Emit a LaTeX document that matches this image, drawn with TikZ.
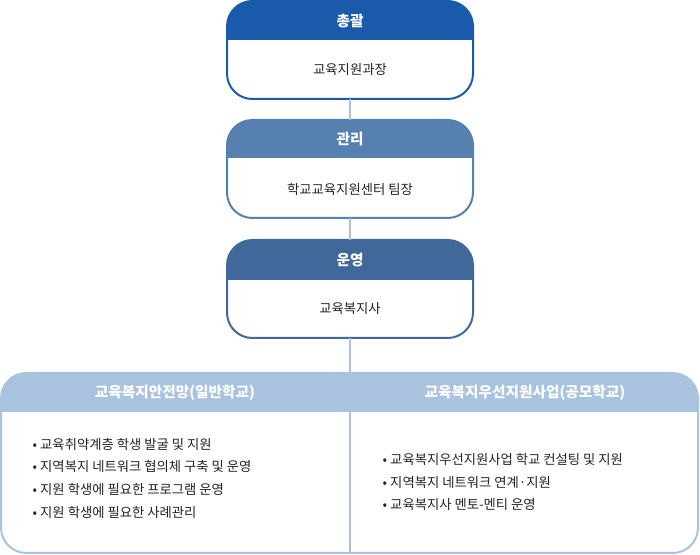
\documentclass[tikz,border=0pt]{standalone}
\usepackage{fontspec}
\setmainfont{Noto Sans CJK KR}
\usetikzlibrary{positioning}
\definecolor{orgdark}{HTML}{1A5AAB}
\definecolor{orgmid}{HTML}{5580B0}
\definecolor{orgdeep}{HTML}{41689A}
\definecolor{orglight}{HTML}{A9C3DF}
\definecolor{orgtext}{HTML}{222222}
\begin{document}
\begin{tikzpicture}[x=0.75pt,y=-0.75pt]
    \tikzset{
      frame/.style={draw=#1, line width=1.5pt, rounded corners=19pt, fill=none},
      head/.style={text=white, font=\bfseries\fontsize{11}{13}\selectfont},
      body/.style={text=orgtext, font=\fontsize{10}{12}\selectfont},
      item/.style={text=orgtext, font=\fontsize{10}{17}\selectfont, align=left, anchor=west},
      link/.style={draw=orglight, line width=0.8pt}
    }
    \useasboundingbox (0,0) rectangle (700,555);

    % Headers
    \fill[orgdark] (227,40) {[rounded corners=19pt] -- (227,1) -- (473,1)} -- (473,40) -- cycle;
    \fill[orgmid] (227,158) {[rounded corners=19pt] -- (227,120) -- (473,120)} -- (473,158) -- cycle;
    \fill[orgdeep] (227,280) {[rounded corners=19pt] -- (227,240) -- (473,240)} -- (473,280) -- cycle;
    \fill[orglight] (1,412) {[rounded corners=19pt] -- (1,373) -- (698,373)} -- (698,412) -- cycle;

    % Frames
    \draw[frame=orgdark] (227,1) rectangle (473,99);
    \draw[frame=orgmid] (227,120) rectangle (473,218);
    \draw[frame=orgdeep] (227,240) rectangle (473,338);
    \draw[frame=orglight] (1,373) rectangle (698,553);

    % Texts
    \node[head] (h1) at (350,21) {총괄};
    \node[body] (b1) at (350,70) {교육지원과장};
    \node[head] (h2) at (350,139) {관리};
    \node[body] (b2) at (350,189) {학교교육지원센터 팀장};
    \node[head] (h3) at (350,260) {운영};
    \node[body] (b3) at (350,309) {교육복지사};
    \node[head] (h4) at (175,393) {교육복지안전망(일반학교)};
    \node[head] (h5) at (525,393) {교육복지우선지원사업(공모학교)};

    \node[item] (l1) at (28,478) {• 교육취약계층 학생 발굴 및 지원\\• 지역복지 네트워크 협의체 구축 및 운영\\• 지원 학생에 필요한 프로그램 운영\\• 지원 학생에 필요한 사례관리};
    \node[item] (r1) at (378,482) {• 교육복지우선지원사업 학교 컨설팅 및 지원\\• 지역복지 네트워크 연계·지원\\• 교육복지사 멘토-멘티 운영};

    % Connections
    \coordinate (t1) at (350,99);
    \coordinate (t2) at (350,120);
    \coordinate (t3) at (350,218);
    \coordinate (t4) at (350,240);
    \coordinate (t5) at (350,338);
    \coordinate (t6) at (350,552);
    \draw[link] (t1) -- (t2);
    \draw[link] (t3) -- (t4);
    \draw[link] (t5) -- (t6);
\end{tikzpicture}
\end{document}
